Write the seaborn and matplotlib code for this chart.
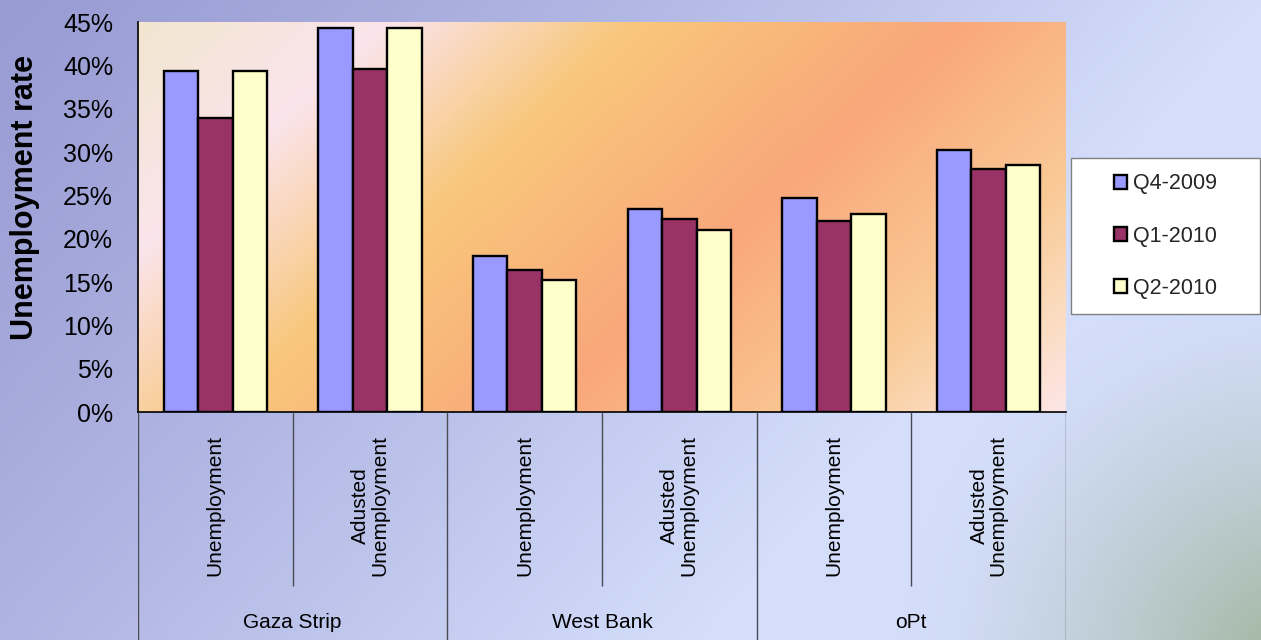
import numpy as np
import pandas as pd
import matplotlib
matplotlib.use("Agg")
import matplotlib.pyplot as plt
from matplotlib.colors import to_rgb
from matplotlib.patches import Rectangle
from matplotlib.ticker import FuncFormatter
import seaborn as sns

# ---------------- data ----------------
regions = ["Gaza Strip", "West Bank", "oPt"]
measures = ["Unemployment", "Adusted\nUnemployment"]
quarters = ["Q4-2009", "Q1-2010", "Q2-2010"]
q4_2009 = [0.393, 0.443, 0.180, 0.234, 0.247, 0.302]
q1_2010 = [0.339, 0.396, 0.164, 0.223, 0.220, 0.280]
q2_2010 = [0.393, 0.443, 0.152, 0.210, 0.229, 0.285]
y_ticks = [0, 0.05, 0.10, 0.15, 0.20, 0.25, 0.30, 0.35, 0.40, 0.45]
colors = {"Q4-2009": "#9999FF", "Q1-2010": "#993366", "Q2-2010": "#FFFFCC"}

cats = [f"{r}|{m}" for r in regions for m in measures]
rows = []
for q, vals in zip(quarters, [q4_2009, q1_2010, q2_2010]):
    for c, v in zip(cats, vals):
        rows.append({"cat": c, "quarter": q, "rate": v})
df = pd.DataFrame(rows)

# ---------------- figure ----------------
sns.set_theme(style="white")
plt.rcParams["font.family"] = ["Liberation Sans", "DejaVu Sans"]

W, H = 1261, 640
fig = plt.figure(figsize=(W / 100, H / 100), dpi=100)

# figure background gradient
bg = fig.add_axes([0, 0, 1, 1])
bg.set_zorder(-5)
yy, xx = np.mgrid[0:H, 0:W].astype(float)
s = np.clip(xx / W * 1.0 + yy / H * 0.45, 0, 1) ** 1.25
c0 = np.array(to_rgb("#999cd3"))
c1 = np.array(to_rgb("#d4defb"))
img = c0[None, None, :] * (1 - s[..., None]) + c1[None, None, :] * s[..., None]
d = np.hypot(xx - 1300, yy - 670)
w = np.clip(1 - d / 400, 0, 1) ** 1.4
g = np.array(to_rgb("#9db398"))
img = img * (1 - w[..., None]) + g[None, None, :] * w[..., None]
bg.imshow(img, extent=(0, 1, 0, 1), aspect="auto", origin="upper")
bg.set_axis_off()

# main plot area (pixel geometry of reference)
L, R, T, B = 138, 1066, 22, 412
ax = fig.add_axes([L / W, (H - B) / H, (R - L) / W, (B - T) / H])

# plot area gradient
ph, pw = B - T, R - L
iy, ix = np.mgrid[0:ph, 0:pw].astype(float)
t = 0.683 * (ix + L) + 0.730 * (iy + T)
stops = [110, 279, 450, 670, 855, 950, 1030]
scol = ["#f1e6cf", "#fbe4ec", "#f8c77b", "#f9a77b", "#f9c995", "#fbdcc0", "#fde6ea"]
srgb = np.array([to_rgb(c) for c in scol])
pimg = np.stack([np.interp(t, stops, srgb[:, k]) for k in range(3)], axis=-1)
ax.imshow(pimg, extent=(-0.5, 5.5, 0, 0.45), aspect="auto", origin="upper", zorder=0)

sns.barplot(data=df, x="cat", y="rate", hue="quarter", order=cats,
            hue_order=quarters, palette=colors, saturation=1, width=0.67,
            edgecolor="black", linewidth=1.7, ax=ax, legend=True, zorder=2)

ax.set_xlim(-0.5, 5.5)
ax.set_ylim(0, 0.45)
ax.set_yticks(y_ticks)
ax.yaxis.set_major_formatter(FuncFormatter(lambda v, p: f"{v * 100:.0f}%"))
ax.tick_params(axis="y", length=0, pad=18, labelsize=18, labelcolor="black")
ax.set_xticks([])
ax.set_xlabel("")
ax.set_ylabel("Unemployment rate", fontsize=22, fontweight="bold", color="black")
ax.yaxis.set_label_coords((25 - L) / (R - L), (B - 198) / (B - T))
ax.yaxis.label.set_va("center")
for side in ["top", "right"]:
    ax.spines[side].set_visible(False)
for side in ["left", "bottom"]:
    ax.spines[side].set_visible(True)
    ax.spines[side].set_color("black")
    ax.spines[side].set_linewidth(1.2)
ax.grid(False)

# legend
handles, labels = ax.get_legend_handles_labels()
ax.get_legend().remove()
fig.patches.append(Rectangle((1071 / W, (H - 314) / H), (1260 - 1071) / W, (314 - 158) / H,
                             transform=fig.transFigure, facecolor="white",
                             edgecolor="#808080", linewidth=1.0, zorder=1))
fig.legend(handles, labels, loc="center",
           bbox_to_anchor=((1071 + 1260) / 2 / W, 1 - (158 + 314) / 2 / H),
           frameon=False, fontsize=15.5, handlelength=0.6, handleheight=0.6,
           handletextpad=0.3, labelspacing=1.45)

# multi-level category axis below the plot
axc = fig.add_axes([L / W, 0, (R - L) / W, (H - B) / H])
axc.set_zorder(1)
axc.set_xlim(-0.5, 5.5)
axc.set_ylim(H, B)
axc.set_axis_off()
axc.patch.set_alpha(0)
line_col = "#4a4a55"
for i in range(len(cats) + 1):
    x = i - 0.5
    if i % 2 == 0:
        axc.plot([x, x], [B, H], color=line_col, lw=1.0, solid_capstyle="butt")
    else:
        axc.plot([x, x], [B, 586], color=line_col, lw=1.0, solid_capstyle="butt")
for i, c in enumerate(cats):
    axc.text(i, 506, c.split("|")[1], rotation=90, ha="center", va="center",
             multialignment="center", fontsize=15, color="black", linespacing=1.0)
for j, r in enumerate(regions):
    axc.text(2 * j + 0.5, 622, r, ha="center", va="center", fontsize=15, color="black")

fig.savefig("out.png", dpi=100)
